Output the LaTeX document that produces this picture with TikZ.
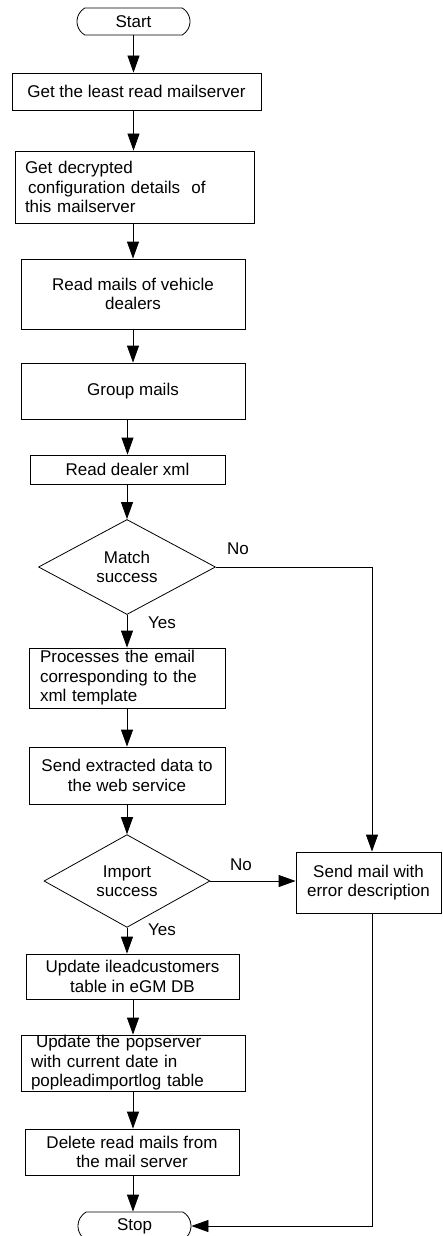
\documentclass[tikz,border=0pt]{standalone}
\usepackage{fontspec}
\setmainfont{Liberation Sans}
\usetikzlibrary{shapes.geometric,shapes.misc,arrows.meta}
\begin{document}
\begin{tikzpicture}[x=1pt,y=-1pt,
  font=\fontsize{17}{19.5}\selectfont,
  line width=0.8pt,
  box/.style={draw, rectangle, inner sep=0pt, align=center},
  lbox/.style={draw, rectangle, inner ysep=0pt, align=left},
  term/.style={draw, rounded rectangle, rounded rectangle arc length=120, minimum width=113pt, inner sep=0pt},
  dec/.style={draw, diamond, inner sep=0pt, align=center},
  arr/.style={-{Triangle[length=17pt,width=12pt]}},
  lab/.style={inner sep=0pt}
]
\useasboundingbox (0,0) rectangle (442,1236);
\clip (0,0) rectangle (442,1236);

\node[term, minimum height=27pt] (start) at (133.5,21.5) {Start};
\node[box, minimum width=249pt, minimum height=37pt] (b1) at (136.5,91.5) {Get the least read mailserver};
\node[lbox, inner xsep=10pt, text width=219pt, minimum height=72pt] (b2) at (134.5,187) {Get decrypted\\\hspace*{3pt}configuration details\ \ of\\this mailserver};
\node[box, minimum width=224pt, minimum height=70pt] (b3) at (133,294) {Read mails of vehicle\\dealers};
\node[box, minimum width=224pt, minimum height=56pt] (b4) at (133,391) {Group mails};
\node[box, minimum width=195pt, minimum height=29pt] (b5) at (127.5,469.5) {Read dealer xml};
\node[dec, minimum width=177pt, minimum height=95pt] (d1) at (127,567) {Match\\success};
\node[lbox, inner xsep=11pt, text width=174pt, minimum height=60pt] (b6) at (127,678) {Processes the email\\corresponding to the\\xml template};
\node[box, minimum width=196pt, minimum height=57pt] (b7) at (127,775.5) {Send extracted data to\\the web service};
\node[dec, minimum width=166pt, minimum height=84pt] (d2) at (127,881) {Import\\success};
\node[box, minimum width=145pt, minimum height=61pt] (b8) at (368.5,882.5) {Send mail with\\error description};
\node[box, minimum width=213pt, minimum height=45pt] (b9) at (132.5,976.5) {Update ileadcustomers\\table in eGM DB};
\node[lbox, inner xsep=10pt, text width=204pt, minimum height=56pt] (b10) at (133,1063) {\hspace*{5pt}Update the popserver\\with current date in\\popleadimportlog table};
\node[box, minimum width=214pt, minimum height=46pt] (b11) at (132,1152) {Delete read mails from\\the mail server};
\node[term, minimum height=28pt] (stop) at (134.5,1226) {Stop};

\coordinate (c1) at (372,567);
\coordinate (c2) at (372,1226);

\node[lab] (no1) at (238,549) {No};
\node[lab] (yes1) at (162,623) {Yes};
\node[lab] (no2) at (241,865) {No};
\node[lab] (yes2) at (162,930) {Yes};

\draw[arr] (start.south) -- (start.south |- b1.north);
\draw[arr] (b1.south -| start) -- (b2.north -| start);
\draw[arr] (b2.south -| b3) -- (b3.north);
\draw[arr] (b3.south) -- (b4.north);
\draw[arr] (b4.south -| b5) -- (b5.north);
\draw[arr] (b5.south -| d1) -- (d1.north);
\draw[arr] (d1.south) -- (b6.north);
\draw[arr] (b6.south) -- (b7.north);
\draw[arr] (b7.south) -- (d2.north);
\draw[arr] (d2.south) -- (b9.north -| d2);
\draw[arr] (b9.south -| b10) -- (b10.north);
\draw[arr] (b10.south) -- (b11.north -| b10);
\draw[arr] (b11.south -| b10) -- (stop.north -| b10);
\draw[arr] (d1.east) -- (c1) -- (c1 |- b8.north);
\draw[arr] (d2.east) -- (d2.east -| b8.west);
\draw[arr] (c1 |- b8.south) -- (c2) -- (stop.east);
\end{tikzpicture}
\end{document}
